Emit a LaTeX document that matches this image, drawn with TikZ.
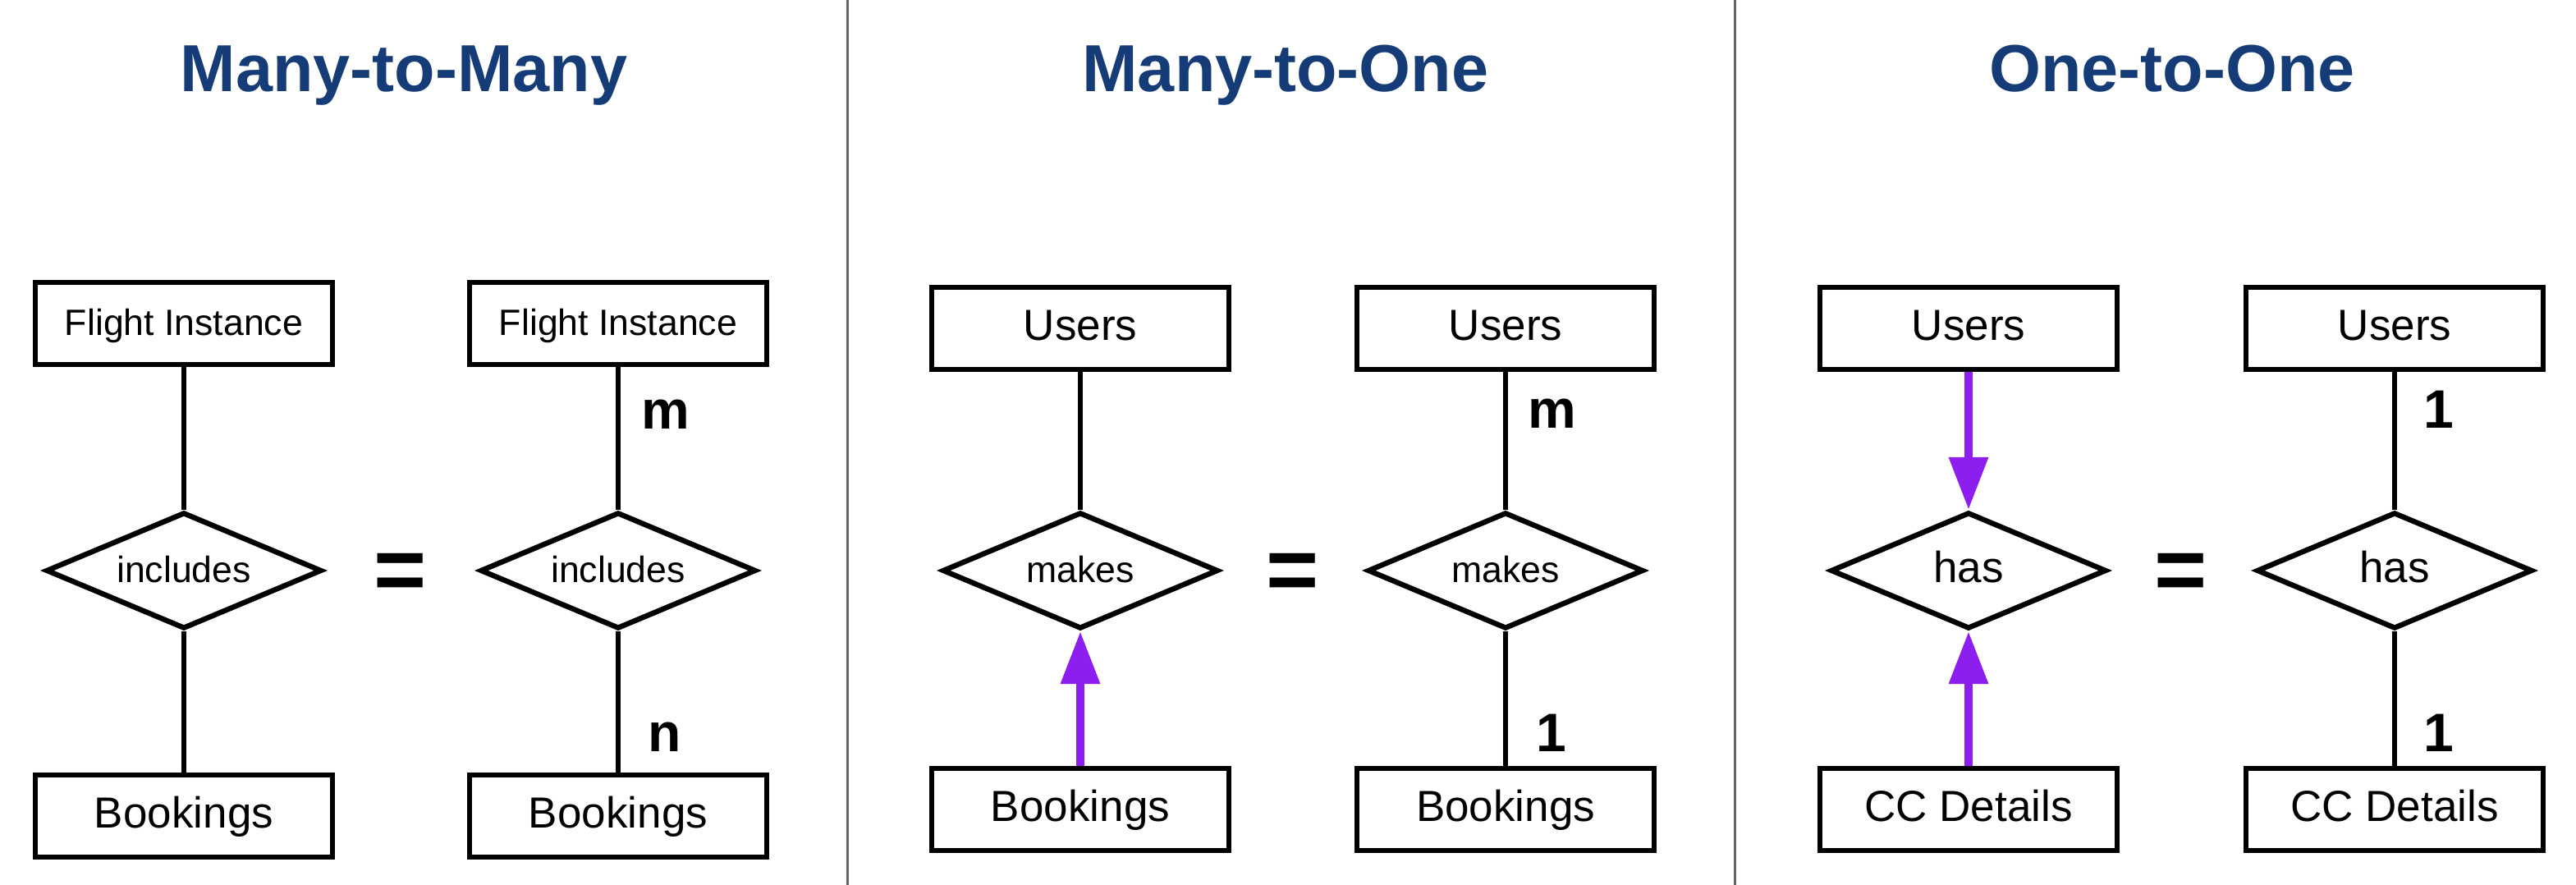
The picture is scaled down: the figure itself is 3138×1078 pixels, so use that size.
\documentclass[tikz,border=0pt]{standalone}
\usepackage{fontspec}
\setmainfont{Liberation Sans}
\usetikzlibrary{shapes.geometric,arrows.meta}
\definecolor{titleblue}{RGB}{22,60,120}
\definecolor{relpurple}{RGB}{140,30,240}
\definecolor{divgray}{RGB}{100,100,100}
\begin{document}
\begin{tikzpicture}[x=0.25pt,y=-0.25pt,
  entity/.style={draw=black, line width=1.6pt, rectangle, minimum width=90.4pt, minimum height=24.9pt, inner sep=0pt, text height=0.716em, text depth=0pt},
  fsmall/.style={font=\fontsize{11.15}{13}\selectfont},
  fbig/.style={font=\fontsize{13.25}{15}\selectfont},
  rel/.style={draw=black, line width=1.6pt, diamond, aspect=2.43, minimum width=84pt, minimum height=35.5pt, inner sep=0pt, text height=0.73em, text depth=0pt},
  conn/.style={draw=black, line width=1.6pt},
  arr/.style={draw=relpurple, line width=2.5pt, -{Triangle[length=16pt,width=11.5pt]}},
  title/.style={font=\bfseries\fontsize{20.25}{24}\selectfont, text=titleblue, inner sep=0pt, anchor=base},
  card/.style={font=\bfseries\fontsize{16.5}{19}\selectfont, inner sep=0pt, anchor=base},
  eqsign/.style={font=\bfseries\fontsize{27.5}{30}\selectfont, inner sep=0pt, anchor=base},
  divider/.style={draw=divgray, line width=0.75pt}]
\useasboundingbox (0,0) rectangle (3138,1078);
\fill[white] (0,0) rectangle (3138,1078);
% dividers
\coordinate (d1t) at (1032,0); \coordinate (d1b) at (1032,1078);
\coordinate (d2t) at (2113,0); \coordinate (d2b) at (2113,1078);
\draw[divider] (d1t) -- (d1b);
\draw[divider] (d2t) -- (d2b);
% titles
\node[title] (t1) at (492,112) {Many-to-Many};
\node[title] (t2) at (1566,112) {Many-to-One};
\node[title] (t3) at (2646,112) {One-to-One};
% panel 1
\node[entity,fsmall] (a1) at (224,394) {Flight Instance};
\node[rel,fsmall] (ar1) at (224,695) {includes};
\node[entity,fbig] (ab1) at (224,994) {Bookings};
\draw[conn] (a1) -- (ar1);
\draw[conn] (ar1) -- (ab1);
\node[eqsign] (eq1) at (488,732) {=};
\node[entity,fsmall] (a2) at (753,394) {Flight Instance};
\node[rel,fsmall] (ar2) at (753,695) {includes};
\node[entity,fbig] (ab2) at (753,994) {Bookings};
\draw[conn] (a2) -- (ar2);
\draw[conn] (ar2) -- (ab2);
\node[card] (am) at (811,523) {m};
\node[card] (an) at (810,916) {n};
% panel 2
\node[entity,fbig] (b1) at (1316,400) {Users};
\node[rel,fsmall] (br1) at (1316,695) {makes};
\node[entity,fbig] (bb1) at (1316,986) {Bookings};
\draw[conn] (b1) -- (br1);
\draw[arr] (bb1) -- (br1);
\node[eqsign] (eq2) at (1575,732) {=};
\node[entity,fbig] (b2) at (1834,400) {Users};
\node[rel,fsmall] (br2) at (1834,695) {makes};
\node[entity,fbig] (bb2) at (1834,986) {Bookings};
\draw[conn] (b2) -- (br2);
\draw[conn] (br2) -- (bb2);
\node[card] (bm) at (1891,522) {m};
\node[card] (bo) at (1890,916) {1};
% panel 3
\node[entity,fbig] (c1) at (2398,400) {Users};
\node[rel,fbig] (cr1) at (2398,695) {has};
\node[entity,fbig] (cb1) at (2398,986) {CC Details};
\draw[arr] (c1) -- (cr1);
\draw[arr] (cb1) -- (cr1);
\node[eqsign] (eq3) at (2657,732) {=};
\node[entity,fbig] (c2) at (2917,400) {Users};
\node[rel,fbig] (cr2) at (2917,695) {has};
\node[entity,fbig] (cb2) at (2917,986) {CC Details};
\draw[conn] (c2) -- (cr2);
\draw[conn] (cr2) -- (cb2);
\node[card] (co1) at (2971,522) {1};
\node[card] (co2) at (2971,916) {1};
\end{tikzpicture}
\end{document}
